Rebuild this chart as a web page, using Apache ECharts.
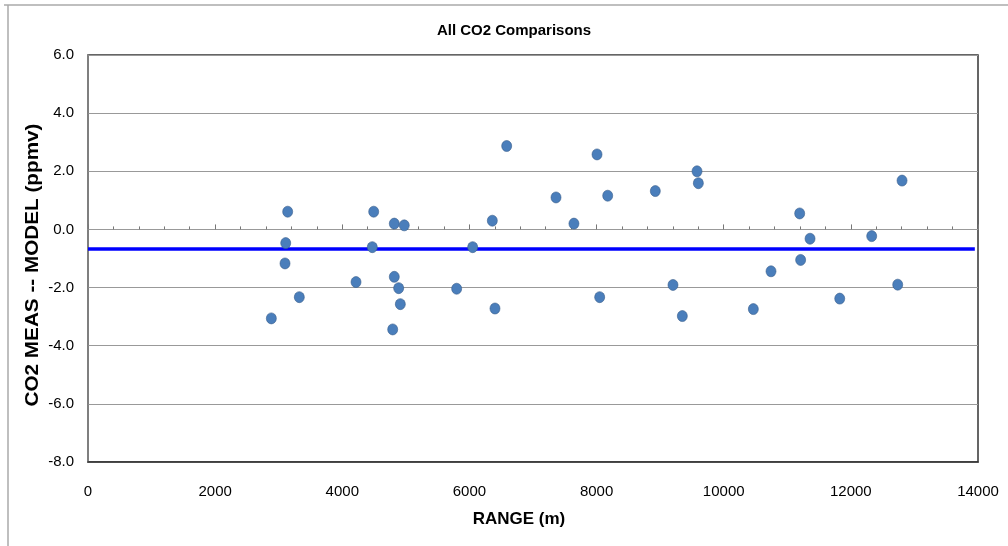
<!DOCTYPE html>
<html>
<head>
<meta charset="utf-8">
<script src="https://cdn.jsdelivr.net/npm/echarts@6/dist/echarts.min.js"></script>
<style>html,body{margin:0;padding:0;background:#fff}#c{width:1008px;height:546px}</style>
</head>
<body>
<div id="c"></div>
<script>
var rangeM = [6586,3141,4494,4818,4975,6360,3110,4472,6051,3099,4216,4818,4887,5799,3324,4913,2884,6402,4793,
  8007,9580,9601,7362,8175,8924,7644,9202,8049,9349,10466,
  12805,11195,11358,12328,11210,10744,12737,11825];
var diffPpmv = [2.87,0.61,0.61,0.20,0.14,0.30,-0.47,-0.61,-0.61,-1.17,-1.81,-1.63,-2.02,-2.04,-2.33,-2.57,-3.06,-2.72,-3.44,
  2.58,2.00,1.59,1.10,1.16,1.32,0.20,-1.91,-2.33,-2.98,-2.74,
  1.68,0.55,-0.32,-0.23,-1.05,-1.44,-1.90,-2.38];
var meanX = [0, 13950];
var meanY = [-0.67, -0.67];
var xTicks = [0,2000,4000,6000,8000,10000,12000,14000];
var yTicks = [-8,-6,-4,-2,0,2,4,6];

var pts = rangeM.map(function(x,i){return [x, diffPpmv[i]];});
var meanPts = meanX.map(function(x,i){return [x, meanY[i]];});
var font = 'Liberation Sans, Arial, sans-serif';

var chart = echarts.init(document.getElementById('c'), null, {renderer:'canvas'});
chart.setOption({
  animation:false,
  backgroundColor:'#fff',
  title:{text:'All CO2 Comparisons', left:509, top:18, textAlign:'center',
    textStyle:{fontFamily:font, fontSize:15, fontWeight:'bold', color:'#000'}},
  grid:{left:88, top:55, right:30, bottom:84, show:true, borderColor:'#333', borderWidth:1.5, backgroundColor:'#fff'},
  xAxis:[{
    type:'value', min:xTicks[0], max:xTicks[xTicks.length-1], interval:2000,
    position:'bottom',
    axisLine:{show:true, onZero:false, lineStyle:{color:'#333', width:1.5}},
    axisTick:{show:false},
    splitLine:{show:false},
    axisLabel:{fontFamily:font, fontSize:15, color:'#000', margin:22,
      formatter:function(v){return String(v);}}
  },{
    type:'value', min:xTicks[0], max:xTicks[xTicks.length-1], interval:2000,
    position:'bottom',
    axisLine:{show:true, onZero:true, lineStyle:{color:'#999', width:1}},
    axisTick:{show:true, inside:true, length:5, lineStyle:{color:'#777', width:1}},
    minorTick:{show:true, splitNumber:5, length:3, lineStyle:{color:'#777', width:1}},
    splitLine:{show:false},
    axisLabel:{show:false}
  }],
  yAxis:{
    type:'value', min:yTicks[0], max:yTicks[yTicks.length-1], interval:2,
    axisLine:{show:true, lineStyle:{color:'#888', width:1.5}},
    axisTick:{show:false},
    splitLine:{show:true, lineStyle:{color:'#999', width:1.2}},
    axisLabel:{fontFamily:font, fontSize:15, color:'#000', margin:14,
      formatter:function(v){return v.toFixed(1);}}
  },
  series:[{
    type:'line', data:meanPts, symbol:'none', xAxisIndex:0,
    lineStyle:{color:'#0000ff', width:3.5}, z:2
  },{
    type:'scatter', data:pts, xAxisIndex:0,
    symbol:'circle', symbolSize:[10,11],
    itemStyle:{color:'#4a7ebb', borderColor:'#385d8a', borderWidth:0.6, opacity:1}, z:3
  }],
  graphic:[
    {type:'line', shape:{x1:4, y1:5, x2:1008, y2:5}, style:{stroke:'#aaa', lineWidth:1.5}},
    {type:'line', shape:{x1:8, y1:5, x2:8, y2:546}, style:{stroke:'#aaa', lineWidth:1.5}},
    {type:'text', x:519, y:519, style:{text:'RANGE (m)', font:'bold 17px '+font, fill:'#000', textAlign:'center', textVerticalAlign:'middle'}},
    {type:'text', x:33, y:265, rotation:Math.PI/2, scaleX:1.15, style:{text:'CO2 MEAS -- MODEL (ppmv)', font:'bold 18px '+font, fill:'#000', textAlign:'center', textVerticalAlign:'middle'}}
  ]
});
</script>
</body>
</html>
